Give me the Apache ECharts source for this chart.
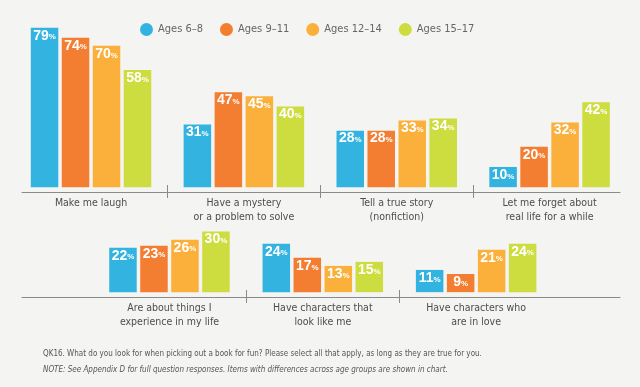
<!DOCTYPE html>
<html>
<head>
<meta charset="utf-8">
<script src="https://cdn.jsdelivr.net/npm/echarts@6/dist/echarts.min.js"></script>
<style>
html,body{margin:0;padding:0;background:#f4f4f2;}
#chart{width:640px;height:387px;}
</style>
</head>
<body>
<div id="chart"></div>
<script>
// ---- data ----
const seriesNames = ['Ages 6–8', 'Ages 9–11', 'Ages 12–14', 'Ages 15–17'];
const colors = ['#33b3e0', '#f37d31', '#fbb03b', '#cddc3e'];

const topCategories = [
  'Make me laugh',
  'Have a mystery\nor a problem to solve',
  'Tell a true story\n(nonfiction)',
  'Let me forget about\nreal life for a while'
];
const topAges6to8   = [79, 31, 28, 10];
const topAges9to11  = [74, 47, 28, 20];
const topAges12to14 = [70, 45, 33, 32];
const topAges15to17 = [58, 40, 34, 42];

const bottomCategories = [
  'Are about things I\nexperience in my life',
  'Have characters that\nlook like me',
  'Have characters who\nare in love'
];
const bottomAges6to8   = [22, 24, 11];
const bottomAges9to11  = [23, 17, 9];
const bottomAges12to14 = [26, 13, 21];
const bottomAges15to17 = [30, 15, 24];

const footnote1 = 'QK16. What do you look for when picking out a book for fun? Please select all that apply, as long as they are true for you.';
const footnote2 = 'NOTE: See Appendix D for full question responses. Items with differences across age groups are shown in chart.';

// ---- chart ----
const narrow = '"Liberation Sans Narrow", "DejaVu Sans Condensed", "Liberation Sans", sans-serif';
const topData = [topAges6to8, topAges9to11, topAges12to14, topAges15to17];
const bottomData = [bottomAges6to8, bottomAges9to11, bottomAges12to14, bottomAges15to17];

const grids = [
  {left: 14.6, width: 611.4, top: 20, height: 172},   // 0 top bars
  {left: 92.8, width: 460, top: 125, height: 172},    // 1 bottom bars
  {left: 22, width: 598, top: 180, height: 12},       // 2 top line
  {left: 22, width: 598, top: 285, height: 12},       // 3 bottom line
  {left: 14.6, width: 611.4, top: 185, height: 13},   // 4 top ticks
  {left: 92.8, width: 460, top: 290, height: 13}      // 5 bottom ticks
];

function catAxis(gridIndex, data, showLabels) {
  return {
    type: 'category', gridIndex: gridIndex, data: data,
    axisLine: {show: false}, axisTick: {show: false},
    axisLabel: showLabels ? {
      show: true, interval: 0, margin: 4, color: '#4d4d4d',
      fontFamily: narrow, fontSize: 10.5, lineHeight: 14
    } : {show: false},
    splitLine: {show: false}
  };
}

const lineStyle = {color: '#8a8a8a', width: 1};
const xAxes = [
  catAxis(0, topCategories, true),
  catAxis(1, bottomCategories, true),
  Object.assign(catAxis(2, ['a'], false), {axisLine: {show: true, lineStyle: lineStyle}}),
  Object.assign(catAxis(3, ['a'], false), {axisLine: {show: true, lineStyle: lineStyle}}),
  Object.assign(catAxis(4, topCategories, false), {splitLine: {show: true, interval: 0, showMinLine: false, showMaxLine: false, lineStyle: lineStyle}}),
  Object.assign(catAxis(5, bottomCategories, false), {splitLine: {show: true, interval: 0, showMinLine: false, showMaxLine: false, lineStyle: lineStyle}})
];

const yAxes = grids.map((g, i) => ({
  type: 'value', gridIndex: i,
  min: i < 2 ? -2.4 : 0, max: i < 2 ? 82.8 : 1,
  show: false, splitLine: {show: false}
}));

const labelCfg = {
  show: true, position: 'insideTop', distance: 1,
  formatter: '{n|{c}}{p|%}',
  rich: {
    n: {fontFamily: '"Liberation Sans", Arial, sans-serif', fontWeight: 'bold', fontSize: 14, color: '#fff'},
    p: {fontFamily: '"Liberation Sans", Arial, sans-serif', fontWeight: 'bold', fontSize: 8, color: '#fff', padding: [3, 0, 0, 0]}
  }
};

const series = [];
seriesNames.forEach((name, i) => {
  series.push({
    name: name, type: 'bar', xAxisIndex: 0, yAxisIndex: 0,
    data: topData[i], barWidth: 27.5, barGap: '12.7%',
    itemStyle: {color: colors[i]}, label: labelCfg
  });
});
seriesNames.forEach((name, i) => {
  series.push({
    name: name, type: 'bar', xAxisIndex: 1, yAxisIndex: 1,
    data: bottomData[i], barWidth: 27.5, barGap: '12.7%',
    itemStyle: {color: colors[i]}, label: labelCfg
  });
});

const chart = echarts.init(document.getElementById('chart'), null, {renderer: 'canvas'});
chart.setOption({
  backgroundColor: '#f4f4f2',
  animation: false,
  legend: {
    data: seriesNames, left: 140, top: 23, padding: 0, icon: 'circle',
    itemWidth: 13, itemHeight: 13, itemGap: 17,
    textStyle: {fontFamily: narrow, fontSize: 11, color: '#666'}
  },
  title: {
    text: footnote1, subtext: footnote2, left: 43, top: 350, padding: 0, itemGap: 8,
    textStyle: {fontFamily: narrow, fontSize: 8, fontWeight: 'normal', color: '#555'},
    subtextStyle: {fontFamily: narrow, fontSize: 8, fontStyle: 'italic', color: '#555'}
  },
  grid: grids,
  xAxis: xAxes,
  yAxis: yAxes,
  series: series
});
</script>
</body>
</html>
